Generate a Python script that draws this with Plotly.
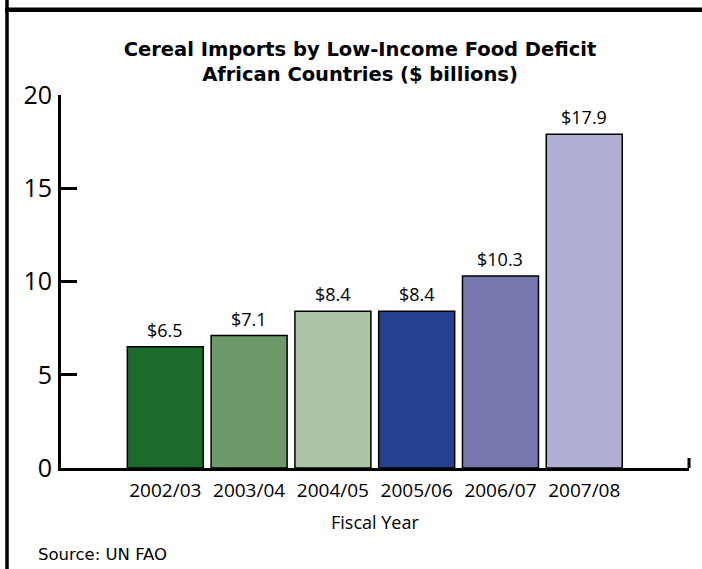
import plotly.graph_objects as go

categories = ["2002/03", "2003/04", "2004/05", "2005/06", "2006/07", "2007/08"]
values = [6.5, 7.1, 8.4, 8.4, 10.3, 17.9]
value_labels = ["$6.5", "$7.1", "$8.4", "$8.4", "$10.3", "$17.9"]
y_ticks = [0, 5, 10, 15, 20]

colors = ["#1d6b2b", "#6e996b", "#acc5a7", "#25418f", "#7677af", "#b0b0d3"]

W, H = 702, 569
L, R, T, B = 61, 13, 95, 101
PW, PH = W - L - R, H - T - B

def px_x(p):
    return (p - L) / PW

def px_y(q):
    return (H - B - q) / PH

num_font = "Open Sans, sans-serif"
ui_font = "DejaVu Sans, sans-serif"

fig = go.Figure()
fig.add_trace(go.Bar(
    x=categories, y=values,
    marker=dict(color=colors, line=dict(color="black", width=1.5)),
    width=0.907,
    hoverinfo="skip",
))

for c, v, t in zip(categories, values, value_labels):
    fig.add_annotation(x=c, y=v, text=t, showarrow=False, yanchor="bottom", yshift=3,
                       font=dict(family=num_font, size=18, color="black"))

fig.add_annotation(xref="paper", yref="paper", x=px_x(375), y=0, yshift=-54,
                   text="Fiscal Year", showarrow=False, yanchor="middle",
                   font=dict(family=num_font, size=18, color="black"))
fig.add_annotation(xref="paper", yref="paper", x=px_x(36), y=0, yshift=-86,
                   text="Source: UN FAO", showarrow=False, xanchor="left", yanchor="middle",
                   font=dict(family=ui_font, size=16.5, color="black"))

shapes = [
    dict(type="line", xref="paper", yref="paper", x0=px_x(5), x1=px_x(W + 2),
         y0=px_y(9.7), y1=px_y(9.7), line=dict(color="black", width=4.5)),
    dict(type="line", xref="paper", yref="paper", x0=px_x(7), x1=px_x(7),
         y0=px_y(-2), y1=px_y(H + 2), line=dict(color="black", width=3.5)),
    dict(type="line", xref="paper", yref="paper", x0=1, x1=1,
         y0=px_y(468), y1=px_y(458), line=dict(color="black", width=3)),
]

fig.update_layout(
    width=W, height=H,
    margin=dict(l=L, r=R, t=T, b=B),
    paper_bgcolor="white", plot_bgcolor="white",
    showlegend=False,
    shapes=shapes,
    title=dict(
        text="<b>Cereal Imports by Low-Income Food Deficit<br>African Countries ($ billions)</b>",
        x=px_x(360), xanchor="center", xref="paper",
        y=1 - 56 / H, yanchor="middle", yref="container",
        font=dict(family=ui_font, size=19.5, color="black"),
    ),
    xaxis=dict(
        type="category", range=[-1.245, 6.25],
        showline=True, linecolor="black", linewidth=3,
        ticks="", showgrid=False, zeroline=False,
        tickfont=dict(family=num_font, size=19, color="black"),
        ticklabelstandoff=3,
    ),
    yaxis=dict(
        range=[0, 20], tickvals=y_ticks,
        showline=True, linecolor="black", linewidth=3,
        ticks="inside", ticklen=16, tickwidth=3, tickcolor="black",
        showgrid=False, zeroline=False,
        tickfont=dict(family=num_font, size=25, color="black"),
        ticklabelstandoff=1,
    ),
)

fig.write_html(
    "out.html",
    config={"displayModeBar": False},
    post_script="document.body.style.margin='0';document.body.style.overflow='hidden';",
)
